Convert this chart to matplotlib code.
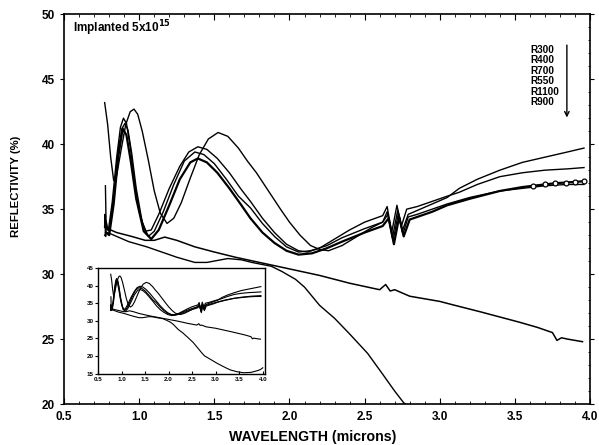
import matplotlib
matplotlib.use("Agg")
import matplotlib.pyplot as plt
from matplotlib.ticker import MultipleLocator

plt.rcParams['font.family'] = ['Liberation Sans', 'DejaVu Sans']

# reflectivity spectra, implanted 5x10^15, after anneals
r300_x = [0.770, 0.790, 0.810, 0.830, 0.850, 0.880, 0.910, 0.940, 0.965, 0.990,
          1.020, 1.060, 1.100, 1.140, 1.185, 1.230, 1.280, 1.340, 1.400, 1.460,
          1.525, 1.590, 1.660, 1.720, 1.780, 1.860, 1.940, 2.000, 2.070, 2.140,
          2.200, 2.260, 2.350, 2.450, 2.550, 2.620, 2.650, 2.685, 2.720, 2.750,
          2.790, 2.850, 2.950, 3.050, 3.130, 3.250, 3.400, 3.550, 3.700, 3.850, 3.960]
r300_y = [43.2, 41.5, 39.0, 37.2, 37.6, 39.6, 41.5, 42.5, 42.7, 42.3,
          41.0, 38.8, 36.4, 34.7, 33.9, 34.3, 35.5, 37.4, 39.2, 40.4,
          40.9, 40.6, 39.7, 38.7, 37.8, 36.4, 35.0, 34.0, 33.0, 32.2,
          31.9, 31.8, 32.2, 32.9, 33.6, 34.0, 34.8, 32.8, 34.9, 33.3,
          34.6, 34.9, 35.4, 35.9, 36.6, 37.3, 38.0, 38.6, 39.0, 39.4, 39.7]

r400_x = [0.775, 0.780, 0.795, 0.820, 0.850, 0.875, 0.895, 0.915, 0.940, 0.970,
          1.000, 1.040, 1.080, 1.130, 1.200, 1.270, 1.330, 1.390, 1.450, 1.520,
          1.600, 1.680, 1.740, 1.820, 1.900, 1.980, 2.060, 2.120, 2.200, 2.300,
          2.400, 2.500, 2.620, 2.650, 2.680, 2.715, 2.745, 2.780, 2.850, 2.950,
          3.050, 3.130, 3.250, 3.400, 3.550, 3.700, 3.850, 3.960]
r400_y = [36.8, 33.6, 33.4, 35.5, 39.0, 41.3, 42.0, 41.6, 39.8, 37.0,
          34.8, 33.3, 33.4, 34.6, 36.6, 38.3, 39.4, 39.8, 39.6, 38.9,
          37.8, 36.5, 35.6, 34.3, 33.2, 32.3, 31.8, 31.7, 32.0, 32.7,
          33.4, 34.0, 34.5, 35.2, 33.2, 35.3, 33.7, 35.0, 35.2, 35.6,
          36.0, 36.3, 36.9, 37.5, 37.8, 38.0, 38.1, 38.2]

r550_x = [0.780, 0.800, 0.830, 0.860, 0.885, 0.905, 0.925, 0.950, 0.980, 1.020,
          1.060, 1.100, 1.160, 1.230, 1.300, 1.370, 1.430, 1.500, 1.580, 1.660,
          1.740, 1.820, 1.900, 1.980, 2.060, 2.140, 2.250, 2.350, 2.500, 2.620,
          2.655, 2.690, 2.725, 2.755, 2.790, 2.850, 2.950, 3.050, 3.200, 3.400,
          3.550, 3.700, 3.850, 3.960]
r550_y = [33.5, 33.3, 36.0, 39.5, 41.2, 41.6, 41.1, 39.3, 36.6, 34.0,
          32.9, 33.3, 34.8, 36.9, 38.7, 39.4, 39.2, 38.5, 37.3, 36.0,
          35.1, 33.9, 32.9, 32.1, 31.7, 31.8, 32.2, 32.8, 33.5, 34.0,
          34.6, 32.6, 34.7, 33.1, 34.4, 34.6, 35.0, 35.4, 35.9, 36.4,
          36.6, 36.8, 36.9, 36.9]

r700_x = [0.780, 0.800, 0.830, 0.860, 0.890, 0.915, 0.945, 0.980, 1.030, 1.080,
          1.130, 1.200, 1.270, 1.340, 1.390, 1.450, 1.520, 1.600, 1.680, 1.740,
          1.820, 1.900, 1.980, 2.060, 2.150, 2.250, 2.350, 2.500, 2.620, 2.660,
          2.695, 2.730, 2.760, 2.800, 2.850, 2.950, 3.050, 3.200, 3.400, 3.550,
          3.620, 3.700, 3.770, 3.840, 3.900, 3.960]
r700_y = [33.2, 33.0, 35.4, 39.0, 41.2, 40.7, 38.6, 35.8, 33.3, 32.7,
          33.4, 35.3, 37.3, 38.6, 38.9, 38.6, 37.8, 36.6, 35.3, 34.3,
          33.2, 32.4, 31.8, 31.5, 31.6, 32.0, 32.5, 33.2, 33.7, 34.3,
          32.3, 34.4, 32.9, 34.2, 34.4, 34.8, 35.3, 35.8, 36.4, 36.7,
          36.8, 36.9, 37.0, 37.05, 37.1, 37.15]

r1100_x = [0.770, 0.773, 0.776, 0.779, 0.790, 0.850, 0.950, 1.040, 1.100, 1.170,
           1.250, 1.370, 1.500, 1.640, 1.760, 1.880, 2.040, 2.200, 2.400, 2.600,
           2.640, 2.670, 2.700, 2.800, 2.900, 3.000, 3.100, 3.270, 3.400, 3.530,
           3.650, 3.750, 3.780, 3.810, 3.850, 3.950]
r1100_y = [33.6, 34.6, 32.9, 34.1, 33.5, 33.2, 32.9, 32.6, 32.6, 32.85,
           32.6, 32.1, 31.7, 31.3, 31.0, 30.7, 30.3, 29.9, 29.3, 28.8,
           29.2, 28.7, 28.8, 28.3, 28.1, 27.9, 27.6, 27.1, 26.7, 26.3,
           25.9, 25.5, 24.9, 25.1, 25.0, 24.8]

r900_x = [0.770, 0.790, 0.850, 0.930, 1.050, 1.150, 1.250, 1.370, 1.450, 1.590,
          1.680, 1.750, 1.880, 1.950, 2.040, 2.100, 2.200, 2.300, 2.400, 2.520,
          2.620, 2.700, 2.760, 2.850, 3.040, 3.200, 3.310, 3.450, 3.590, 3.750,
          3.890, 3.950, 4.000]
r900_y = [33.0, 33.2, 32.9, 32.5, 32.1, 31.7, 31.3, 30.9, 30.9, 31.2,
          31.1, 30.9, 30.6, 30.2, 29.6, 29.0, 27.6, 26.6, 25.4, 23.9,
          22.3, 21.0, 20.1, 19.4, 17.9, 16.8, 16.1, 15.6, 15.3, 15.4,
          15.9, 16.2, 16.7]

series = [(r300_x, r300_y, 1.0), (r400_x, r400_y, 1.0), (r550_x, r550_y, 1.0),
          (r700_x, r700_y, 1.6), (r1100_x, r1100_y, 1.1), (r900_x, r900_y, 1.0)]
labels = ['R300', 'R400', 'R700', 'R550', 'R1100', 'R900']

fig = plt.figure(figsize=(5.99, 4.45), dpi=100)
ax = fig.add_axes([0.107, 0.092, 0.878, 0.876])

for xs, ys, lw in series:
    ax.plot(xs, ys, color='black', lw=lw)
# the R700 trace carries open circles near the end
ax.plot(r700_x[-6:], r700_y[-6:], 'o', ms=3.5, mfc='white', mec='black', mew=0.9)

ax.set_xlim(0.5, 4.0)
ax.set_ylim(20, 50)
ax.xaxis.set_minor_locator(MultipleLocator(0.1))
ax.yaxis.set_major_locator(MultipleLocator(5))
ax.yaxis.set_minor_locator(MultipleLocator(1))
ax.set_xticks([0.5, 1.0, 1.5, 2.0, 2.5, 3.0, 3.5, 4.0])
ax.set_xticklabels(['0.5', '1.0', '1.5', '2.0', '2.5', '3.0', '3.5', '4.0'])
ax.tick_params(axis='x', which='both', direction='in', top=True, labelsize=8.5, pad=5)
ax.tick_params(axis='x', which='major', length=4)
ax.tick_params(axis='x', which='minor', length=2)
ax.tick_params(axis='y', which='major', direction='out', length=3, labelsize=8.5)
ax.tick_params(axis='y', which='minor', left=False, right=True, direction='in', length=1.5)
ax.tick_params(axis='y', which='major', right=True)
for t in ax.get_xticklabels() + ax.get_yticklabels():
    t.set_fontweight('bold')
for s in ax.spines.values():
    s.set_linewidth(1.2)

ax.set_xlabel('WAVELENGTH (microns)', fontsize=10.2, fontweight='bold')
ax.xaxis.set_label_coords(0.473, -0.066)
ax.set_ylabel('REFLECTIVITY (%)', fontsize=8.2, fontweight='bold')
ax.yaxis.set_label_coords(-0.082, 0.559)

ax.text(0.017, 0.965, r'Implanted 5x10$^{\mathbf{15}}$', transform=ax.transAxes,
        fontsize=8.5, fontweight='bold', va='center', ha='left')
ax.text(0.886, 0.922, '\n'.join(labels), transform=ax.transAxes, fontsize=7.2,
        fontweight='bold', va='top', ha='left', linespacing=1.07)
ax.annotate('', xy=(0.956, 0.728), xytext=(0.956, 0.928), xycoords='axes fraction',
            arrowprops=dict(arrowstyle='->', color='black', lw=1.0,
                            mutation_scale=8))

# inset: full range of the same data
ins = fig.add_axes([0.1636, 0.160, 0.279, 0.238])
for xs, ys, lw in series:
    ins.plot(xs, ys, color='black', lw=0.8)
ins.set_xlim(0.5, 4.05)
ins.set_ylim(15, 45)
ins.set_xticks([0.5, 1.0, 1.5, 2.0, 2.5, 3.0, 3.5, 4.0])
ins.set_yticks([15, 20, 25, 30, 35, 40, 45])
ins.tick_params(axis='x', direction='in', length=2.5, labelsize=4.5, pad=2)
ins.tick_params(axis='y', direction='out', length=2, labelsize=4.5, pad=1)
for t in ins.get_xticklabels() + ins.get_yticklabels():
    t.set_fontweight('bold')
for s in ins.spines.values():
    s.set_linewidth(1.0)

fig.savefig('out.png', dpi=100)
